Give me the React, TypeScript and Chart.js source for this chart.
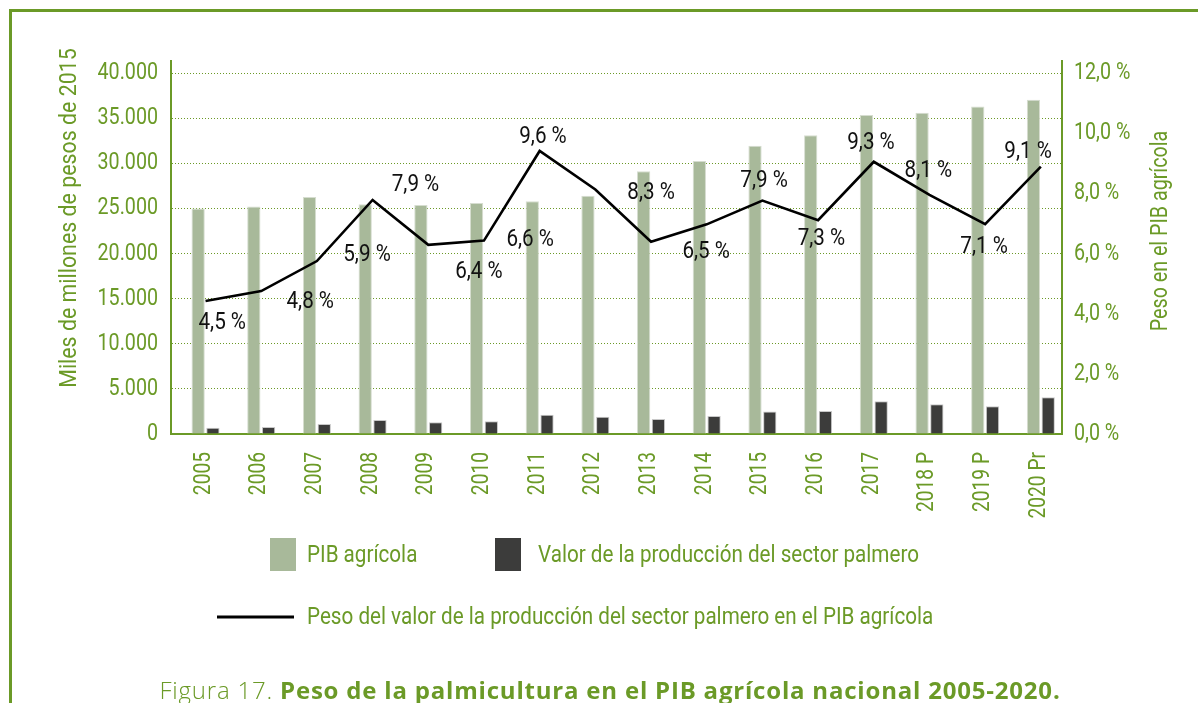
import React, { useEffect, useRef } from "react";
import { Chart, registerables } from "chart.js";

Chart.register(...registerables);

// ---------- data ----------
const categories = ["2005", "2006", "2007", "2008", "2009", "2010", "2011", "2012", "2013", "2014", "2015", "2016", "2017", "2018 P", "2019 P", "2020 Pr"];
const pibAgricola = [25000, 25200, 26250, 25450, 25370, 25600, 25800, 26400, 29100, 30250, 31950, 33100, 35350, 35600, 36300, 37050];
const valorPalmero = [700, 780, 1100, 1550, 1300, 1400, 2140, 1920, 1660, 2000, 2500, 2550, 3620, 3290, 3070, 4070];
const pesoPalmero = [4.42, 4.75, 5.75, 7.78, 6.29, 6.43, 9.41, 8.13, 6.39, 6.97, 7.76, 7.11, 9.05, 7.95, 6.98, 8.89];

// value labels as printed in the figure (anchored in data units)
const pesoLabels = ["4,5 %", "4,8 %", "5,9 %", "7,9 %", "6,4 %", "6,6 %", "9,6 %", "8,3 %", "6,5 %", "7,9 %", "7,3 %", "9,3 %", "8,1 %", "7,1 %", "9,1 %"];
const labelAtCategory = [0.3, 1.88, 2.9, 3.77, 4.91, 5.83, 6.06, 8.0, 8.99, 10.03, 11.06, 11.95, 12.98, 13.98, 14.77];
const labelAtPercent = [3.69, 4.39, 5.95, 8.28, 5.39, 6.45, 9.87, 8.01, 6.05, 8.41, 6.48, 9.67, 8.74, 6.22, 9.38];

const leftTicks = [0, 5000, 10000, 15000, 20000, 25000, 30000, 35000, 40000];
const rightTicks = [0, 2, 4, 6, 8, 10, 12];

const seriesNames = ["PIB agrícola", "Valor de la producción del sector palmero", "Peso del valor de la producción del sector palmero en el PIB agrícola"];
const leftTitle = "Miles de millones de pesos de 2015";
const rightTitle = "Peso en el PIB agrícola";
const captionLight = "Figura 17. ";
const captionBold = "Peso de la palmicultura en el PIB agrícola nacional 2005-2020.";

// ---------- styles ----------
const GREEN = "#6b9a27";
const BAR_GREEN = "#a8b99a";
const BAR_DARK = "#3c3c3b";
const FONT = 'Roboto, "Noto Sans", sans-serif';
const CAPTION_FONT = '"Open Sans", "Noto Sans", sans-serif';

const fmtThousands = (v: number) => String(v).replace(/\B(?=(\d{3})+(?!\d))/g, ".");
const fmtPct = (v: number) => v.toFixed(1).replace(".", ",") + " %";

function condText(
  ctx: CanvasRenderingContext2D,
  text: string,
  x: number,
  y: number,
  size: number,
  sx: number,
  align: CanvasTextAlign,
  color: string,
  rot = 0
) {
  ctx.save();
  ctx.translate(x, y);
  if (rot) ctx.rotate(rot);
  ctx.scale(sx, 1);
  ctx.font = `${size}px ${FONT}`;
  ctx.textAlign = align;
  ctx.textBaseline = "middle";
  ctx.fillStyle = color;
  ctx.fillText(text, 0, 0);
  ctx.restore();
}

const decorPlugin = {
  id: "decor",
  afterDraw(chart: any) {
    const ctx = chart.ctx as CanvasRenderingContext2D;
    const xs = chart.scales.x;
    const ys = chart.scales.y;
    const y2 = chart.scales.y2;
    const area = chart.chartArea;
    ctx.save();

    // frame
    ctx.strokeStyle = GREEN;
    ctx.lineWidth = 3;
    ctx.beginPath();
    ctx.moveTo(10.5, 703);
    ctx.lineTo(10.5, 10.5);
    ctx.lineTo(1198, 10.5);
    ctx.stroke();

    // tick labels
    leftTicks.forEach((v) => condText(ctx, fmtThousands(v), area.left - 13, ys.getPixelForValue(v), 24, 0.82, "right", GREEN));
    rightTicks.forEach((v) => condText(ctx, fmtPct(v), area.right + 12, y2.getPixelForValue(v), 24, 0.82, "left", GREEN));
    categories.forEach((c, i) =>
      condText(ctx, c, xs.getPixelForValue(i) - 2, area.bottom + 18, 24, 0.8, "right", GREEN, -Math.PI / 2)
    );

    // value labels
    pesoLabels.forEach((t, i) =>
      condText(ctx, t, xs.getPixelForValue(labelAtCategory[i]), y2.getPixelForValue(labelAtPercent[i]), 24, 0.86, "center", "#111")
    );

    // axis titles
    condText(ctx, leftTitle, 70, 218, 24, 0.89, "center", GREEN, -Math.PI / 2);
    condText(ctx, rightTitle, 1161, 231, 24, 0.82, "center", GREEN, -Math.PI / 2);

    // legend
    ctx.fillStyle = BAR_GREEN;
    ctx.fillRect(270, 538, 26, 33);
    ctx.fillStyle = BAR_DARK;
    ctx.fillRect(495, 538, 26, 33);
    condText(ctx, seriesNames[0], 307, 556, 24, 0.86, "left", GREEN);
    condText(ctx, seriesNames[1], 538, 556, 24, 0.86, "left", GREEN);
    ctx.strokeStyle = "#000";
    ctx.lineWidth = 3;
    ctx.beginPath();
    ctx.moveTo(217, 617);
    ctx.lineTo(294, 617);
    ctx.stroke();
    condText(ctx, seriesNames[2], 307, 618, 24, 0.86, "left", GREEN);

    // caption
    ctx.textBaseline = "alphabetic";
    ctx.textAlign = "left";
    ctx.fillStyle = GREEN;
    (ctx as any).letterSpacing = "0.8px";
    ctx.font = `300 24px ${CAPTION_FONT}`;
    const w1 = ctx.measureText(captionLight).width;
    ctx.font = `700 24px ${CAPTION_FONT}`;
    const w2 = ctx.measureText(captionBold).width;
    const x0 = 610 - (w1 + w2) / 2;
    ctx.font = `300 24px ${CAPTION_FONT}`;
    ctx.fillText(captionLight, x0, 699);
    ctx.font = `700 24px ${CAPTION_FONT}`;
    ctx.fillText(captionBold, x0 + w1, 699);
    (ctx as any).letterSpacing = "0px";

    ctx.restore();
  },
};

export default function App() {
  const ref = useRef<HTMLCanvasElement | null>(null);

  useEffect(() => {
    if (!ref.current) return;
    const chart = new Chart(ref.current, {
      type: "bar",
      data: {
        datasets: [
          {
            type: "line",
            label: seriesNames[2],
            data: pesoPalmero.map((v, i) => ({ x: i, y: v })),
            yAxisID: "y2",
            borderColor: "#000",
            borderWidth: 2.6,
            pointRadius: 0,
            tension: 0,
            order: 0,
          } as any,
          {
            label: seriesNames[0],
            data: pibAgricola.map((v, i) => ({ x: i, y: v })),
            yAxisID: "y",
            backgroundColor: BAR_GREEN,
            borderColor: "#d6ddd0",
            borderWidth: 1,
            categoryPercentage: 0.53,
            barPercentage: 0.9,
            order: 1,
          },
          {
            label: seriesNames[1],
            data: valorPalmero.map((v, i) => ({ x: i, y: v })),
            yAxisID: "y",
            backgroundColor: BAR_DARK,
            borderColor: "#c8c8c8",
            borderWidth: 1,
            categoryPercentage: 0.53,
            barPercentage: 0.9,
            order: 1,
          },
        ],
      },
      options: {
        animation: false,
        responsive: false,
        maintainAspectRatio: false,
        layout: { padding: { top: 61, left: 0, right: 0, bottom: 0 } },
        plugins: { legend: { display: false }, tooltip: { enabled: false }, title: { display: false } },
        scales: {
          x: {
            type: "linear",
            offset: false,
            min: -0.62,
            max: 15.38,
            grid: { display: false, drawTicks: false },
            border: { display: true, color: GREEN, width: 2 },
            afterBuildTicks: (s: any) => {
              s.ticks = categories.map((_, i) => ({ value: i }));
            },
            afterFit: (s: any) => {
              s.height = 269;
            },
            ticks: { display: false },
          },
          y: {
            position: "left",
            min: 0,
            max: 41330,
            afterBuildTicks: (s: any) => {
              s.ticks = leftTicks.map((v) => ({ value: v }));
            },
            afterFit: (s: any) => {
              s.width = 171;
            },
            grid: { color: GREEN, lineWidth: 1, drawTicks: false },
            border: { display: true, color: GREEN, width: 2, dash: [1, 2] },
            ticks: { display: false },
          },
          y2: {
            position: "right",
            min: 0,
            max: 12.4,
            afterBuildTicks: (s: any) => {
              s.ticks = rightTicks.map((v) => ({ value: v }));
            },
            afterFit: (s: any) => {
              s.width = 136;
            },
            grid: { display: false, drawTicks: false },
            border: { display: true, color: GREEN, width: 2 },
            ticks: { display: false },
          },
        },
      },
      plugins: [decorPlugin],
    } as any);
    return () => chart.destroy();
  }, []);

  return (
    <div style={{ position: "fixed", left: 0, top: 0, width: 1198, height: 703, background: "#fff" }}>
      <canvas ref={ref} width={1198} height={703} style={{ display: "block" }} />
    </div>
  );
}
